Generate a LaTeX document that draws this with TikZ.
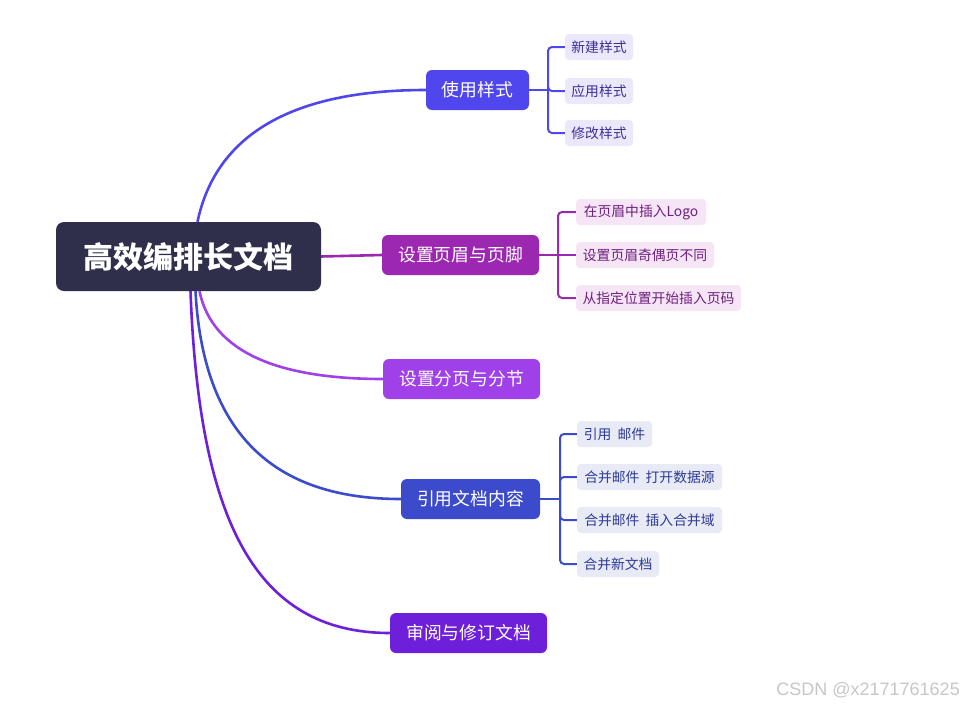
\documentclass[tikz,border=0pt]{standalone}
\usepackage{fontspec}
\setmainfont{Noto Sans CJK SC}
\newfontfamily\wm{Liberation Sans}
\definecolor{rootc}{HTML}{2F2E4B}
\definecolor{cA}{HTML}{5046EE}
\definecolor{cB}{HTML}{9C27B0}
\definecolor{cC}{HTML}{A040E8}
\definecolor{cD}{HTML}{3C4BCC}
\definecolor{cE}{HTML}{6D1FD9}
\definecolor{lA}{HTML}{EBE8FC}
\definecolor{lB}{HTML}{F5E5F5}
\definecolor{lD}{HTML}{E8EAF6}
\definecolor{tA}{HTML}{3A3199}
\definecolor{tB}{HTML}{6E1F80}
\definecolor{tD}{HTML}{2D3A96}
\begin{document}
\begin{tikzpicture}[x=1pt,y=-1pt,
  rootbox/.style={fill=rootc,text=white,rounded corners=8pt,minimum width=265pt,minimum height=69pt,inner sep=0pt,font=\fontsize{30}{32}\selectfont\bfseries},
  branchbox/.style={fill=#1,text=white,rounded corners=6pt,minimum height=40pt,inner sep=0pt,font=\fontsize{17.8}{19}\selectfont},
  leafbox/.style={fill=#1,rounded corners=4pt,minimum height=26pt,inner sep=0pt,font=\fontsize{13.8}{15}\selectfont},
  link/.style={draw=#1,line width=2.6pt},
  brk/.style={draw=#1,line width=2pt,rounded corners=4pt}]
\useasboundingbox (0,0) rectangle (963,707);
\fill[white] (0,0) rectangle (963,707);

% root
\node[rootbox] (root) at (188.5,256.5) {高效编排长文档};

% branches
\node[branchbox=cA,minimum width=103pt] (b1) at (477.5,90) {使用样式};
\node[branchbox=cB,minimum width=157pt] (b2) at (460.5,255) {设置页眉与页脚};
\node[branchbox=cC,minimum width=157pt] (b3) at (461.5,379) {设置分页与分节};
\node[branchbox=cD,minimum width=139pt] (b4) at (470.5,499) {引用文档内容};
\node[branchbox=cE,minimum width=157pt] (b5) at (468.5,633) {审阅与修订文档};

% links root -> branches
\draw[link=cA] ([xshift=9pt]root.north) .. controls (216,134) and (293,90) .. (b1.west);
\draw[link=cB] (root.east) -- (b2.west);
\draw[link=cC] ([xshift=11pt]root.south) .. controls (212,352) and (278,379) .. (b3.west);
\draw[link=cD] ([xshift=7pt]root.south) .. controls (203,432) and (272,499) .. (b4.west);
\draw[link=cE] ([xshift=2pt]root.south) .. controls (199,520) and (255,633) .. (b5.west);

% leaves of b1
\node[leafbox=lA,text=tA,minimum width=68pt] (a1) at (599,47) {新建样式};
\node[leafbox=lA,text=tA,minimum width=68pt] (a2) at (599,91) {应用样式};
\node[leafbox=lA,text=tA,minimum width=68pt] (a3) at (599,133) {修改样式};
\coordinate (ja) at (548,90);
\draw[brk=cA] (b1.east) -- (ja);
\draw[brk=cA] (a1.west) -| (ja) |- (a3.west);
\draw[brk=cA] (ja) -- (ja |- a2.west) -- (a2.west);

% leaves of b2
\node[leafbox=lB,text=tB,minimum width=130pt] (p1) at (641,212) {在页眉中插入Logo};
\node[leafbox=lB,text=tB,minimum width=138pt] (p2) at (645,255) {设置页眉奇偶页不同};
\node[leafbox=lB,text=tB,minimum width=165pt] (p3) at (658.5,298) {从指定位置开始插入页码};
\coordinate (jb) at (558,255);
\draw[brk=cB] (b2.east) -- (jb);
\draw[brk=cB] (p1.west) -| (jb) |- (p3.west);
\draw[brk=cB] (jb) -- (p2.west);

% leaves of b4
\node[leafbox=lD,text=tD,minimum width=75pt] (d1) at (614.5,434) {引用\ \ 邮件};
\node[leafbox=lD,text=tD,minimum width=145pt] (d2) at (649.5,477) {合并邮件\ \ 打开数据源};
\node[leafbox=lD,text=tD,minimum width=145pt] (d3) at (649.5,520) {合并邮件\ \ 插入合并域};
\node[leafbox=lD,text=tD,minimum width=82pt] (d4) at (618,564) {合并新文档};
\coordinate (jd) at (560,499);
\draw[brk=cD] (b4.east) -- (jd);
\draw[brk=cD] (d1.west) -| (jd) |- (d4.west);
\draw[brk=cD] (d2.west) -| (jd);
\draw[brk=cD] (d3.west) -| (jd);

% watermark
\node[anchor=east,text=black!22,font=\wm\fontsize{18}{20}\selectfont,inner sep=0pt] (wmk) at (960,690) {CSDN @x2171761625};
\end{tikzpicture}
\end{document}
